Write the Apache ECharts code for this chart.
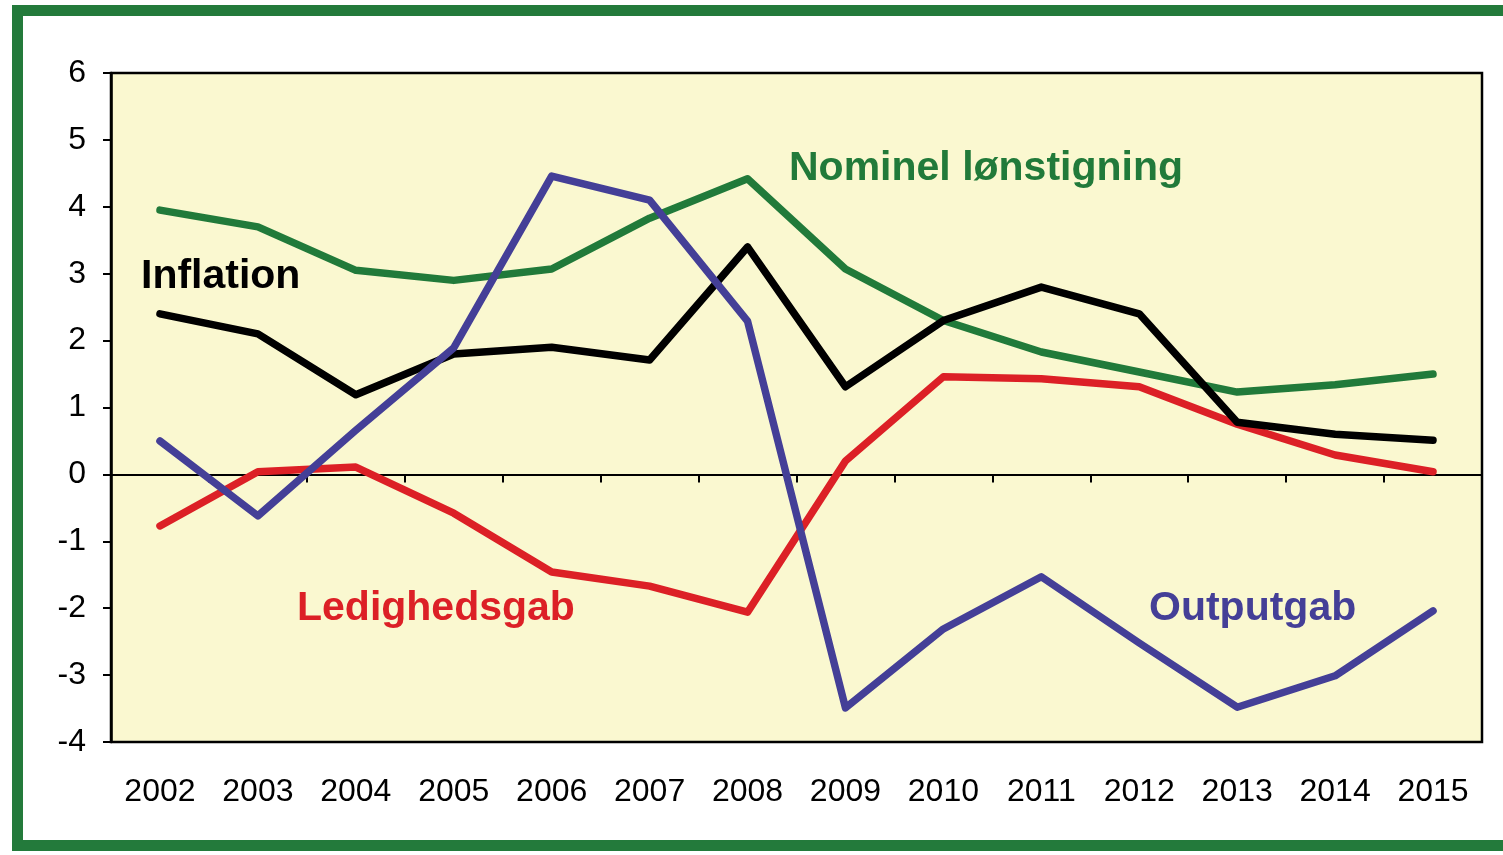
<!DOCTYPE html>
<html>
<head>
<meta charset="utf-8">
<script src="https://cdn.jsdelivr.net/npm/echarts@6/dist/echarts.min.js"></script>
<style>
  html, body { margin: 0; padding: 0; background: #fff; }
  #wrap { position: relative; width: 1503px; height: 855px; overflow: hidden; }
  #chart { position: absolute; left: 0; top: 0; width: 1503px; height: 855px; }
  /* grøn ramme rundt om figuren */
  #frame {
    position: absolute; left: 12px; top: 5px; width: 1600px; height: 846px;
    border-left: 11px solid #237a3b; border-top: 11px solid #237a3b; border-bottom: 11px solid #237a3b;
    box-sizing: border-box; pointer-events: none;
  }
</style>
</head>
<body>
<div id="wrap">
  <div id="chart"></div>
  <div id="frame"></div>
</div>
<script>
const years = ['2002', '2003', '2004', '2005', '2006', '2007', '2008', '2009', '2010', '2011', '2012', '2013', '2014', '2015']
const nominelLoen = [3.95, 3.7, 3.05, 2.9, 3.07, 3.83, 4.42, 3.07, 2.3, 1.83, 1.53, 1.23, 1.34, 1.5]
const ledighedsgab = [-0.77, 0.04, 0.11, -0.58, -1.46, -1.67, -2.06, 0.2, 1.46, 1.43, 1.31, 0.75, 0.29, 0.04]
const inflation = [2.4, 2.1, 1.19, 1.8, 1.9, 1.71, 3.4, 1.31, 2.3, 2.8, 2.4, 0.78, 0.6, 0.51]
const outputgab = [0.5, -0.62, 0.66, 1.89, 4.46, 4.1, 2.29, -3.49, -2.31, -1.53, -2.52, -3.48, -3.01, -2.04]

const font = 'Liberation Sans, Arial, sans-serif'
const chart = echarts.init(document.getElementById('chart'))

function line(name, data, color) {
  return {
    name: name,
    type: 'line',
    data: data,
    symbol: 'none',
    xAxisIndex: 0,
    lineStyle: { color: color, width: 7.5, cap: 'round', join: 'round' },
    itemStyle: { color: color },
    animation: false
  }
}

const option = {
  animation: false,
  grid: {
    left: 111, right: 21, top: 73, bottom: 113,
    show: true,
    backgroundColor: '#faf8d0',
    borderColor: '#000',
    borderWidth: 2.5
  },
  xAxis: [
    {
      // nul-linjen med tick-marks
      type: 'category',
      data: years,
      boundaryGap: true,
      axisLine: { onZero: true, lineStyle: { color: '#000', width: 2 } },
      axisTick: { show: true, length: 8, lineStyle: { color: '#000', width: 2 } },
      axisLabel: { show: false },
      splitLine: { show: false }
    },
    {
      // årstal i bunden
      type: 'category',
      data: years,
      position: 'bottom',
      boundaryGap: true,
      axisLine: { show: false, onZero: false },
      axisTick: { show: false },
      axisLabel: { color: '#000', fontSize: 32, fontFamily: font, margin: 34 },
      splitLine: { show: false }
    }
  ],
  yAxis: {
    type: 'value',
    min: -4,
    max: 6,
    interval: 1,
    axisLine: { show: true, lineStyle: { color: '#000', width: 2.5 } },
    axisTick: { show: true, length: 8, lineStyle: { color: '#000', width: 2 } },
    axisLabel: { color: '#000', fontSize: 32, fontFamily: font, margin: 25 },
    splitLine: { show: false }
  },
  series: [
    line('Nominel lønstigning', nominelLoen, '#217a3a'),
    line('Ledighedsgab', ledighedsgab, '#dc2026'),
    line('Inflation', inflation, '#000000'),
    line('Outputgab', outputgab, '#443f97')
  ],
  graphic: [
    { type: 'text', left: 789, top: 148, style: { text: 'Nominel lønstigning', fill: '#217a3a', font: 'bold 41px ' + font } },
    { type: 'text', left: 141, top: 256, style: { text: 'Inflation', fill: '#000', font: 'bold 41px ' + font } },
    { type: 'text', left: 297, top: 588, style: { text: 'Ledighedsgab', fill: '#dc2026', font: 'bold 41px ' + font } },
    { type: 'text', left: 1149, top: 588, style: { text: 'Outputgab', fill: '#443f97', font: 'bold 41px ' + font } }
  ]
}
chart.setOption(option)
</script>
</body>
</html>
